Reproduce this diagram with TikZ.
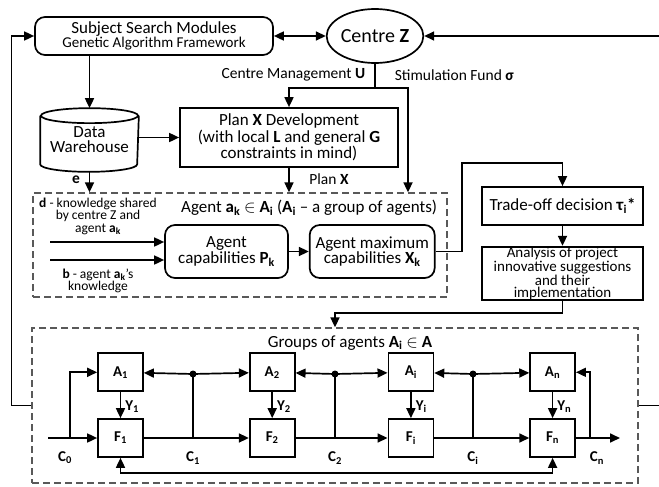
\documentclass[tikz,border=0pt]{standalone}
\usepackage{fontspec}
\setmainfont{Carlito}
\usetikzlibrary{positioning,shapes.geometric,arrows.meta}

\begin{document}
\begin{tikzpicture}[x=1pt,y=-1pt,line width=1.7pt,
	arr/.style={-{Triangle[length=10pt,width=9pt]}},
	darr/.style={{Triangle[length=10pt,width=9pt]}-{Triangle[length=10pt,width=9pt]}},
	box/.style={draw,align=center,inner sep=1pt,font=\fontsize{17}{14.5}\selectfont},
	rbox/.style={box,rounded corners=10pt},
	blk/.style={draw,minimum width=45pt,minimum height=38pt,inner sep=0pt,font=\bfseries\fontsize{15}{15}\selectfont},
	grpbox/.style={draw=black!65,dash pattern=on 7pt off 4pt,line width=1.3pt,inner sep=0pt},
	lbl/.style={inner sep=0pt,font=\fontsize{15.5}{13}\selectfont},
	sml/.style={inner sep=0pt,align=center,font=\fontsize{13.5}{12.5}\selectfont},
	ylbl/.style={right,inner sep=4pt,font=\bfseries\fontsize{15}{15}\selectfont},
	dot/.style={circle,fill,inner sep=0pt,minimum size=7pt}]
	\useasboundingbox (0,0) rectangle (659,487);

	%% centre and plan
	\node[rbox,minimum width=238pt,minimum height=38pt] (ssm) at (154,36) {Subject Search Modules\\\fontsize{15}{14}\selectfont Genetic Algorithm Framework};
	\node[ellipse,draw,minimum width=96pt,minimum height=54pt,inner sep=0pt,font=\fontsize{20}{20}\selectfont] (cz) at (375,36) {Centre \textbf{Z}};
	\node[box,minimum width=218pt,minimum height=59pt] (plan) at (289,137.5) {Plan \textbf{X} Development\\(with local \textbf{L} and general \textbf{G}\\constraints in mind)};
	\node[box,draw=none,minimum width=97pt,minimum height=62pt,font=\fontsize{17}{15}\selectfont] (dw) at (89.5,140) {Data\\Warehouse};
	\draw ([yshift=-7.5pt]dw.north west) -- ([yshift=7.5pt]dw.south west)
		arc[start angle=180,end angle=360,x radius=48.5pt,y radius=7.5pt] -- ([yshift=-7.5pt]dw.north east);
	\draw ([yshift=-7.5pt]dw.north) ellipse[x radius=48.5pt,y radius=7.5pt];
	\coordinate (czb) at (375,88);
	\coordinate (sf) at (408,88);
	\node[lbl,anchor=east] (cmu) at (366,75) {Centre Management \textbf{U}};
	\node[lbl,anchor=west] (sfs) at (394,75) {Stimulation Fund \textbf{σ}};

	%% agent
	\node[grpbox,minimum width=414pt,minimum height=104pt] (agbox) at (240,245) {};
	\node[lbl,anchor=east,font=\fontsize{17}{17}\selectfont] (agt) at (438,208) {Agent \textbf{a}\textsubscript{\textbf{k}} $\in$ \textbf{A}\textsubscript{\textbf{i}} (\textbf{A}\textsubscript{\textbf{i}} – a group of agents)};
	\node[rbox,minimum width=123pt,minimum height=53pt] (cap) at (226.5,251.5) {Agent\\capabilities \textbf{P}\textsubscript{\textbf{k}}};
	\node[rbox,minimum width=125pt,minimum height=53pt,right =20pt of cap] (mcap) {Agent maximum\\capabilities \textbf{X}\textsubscript{\textbf{k}}};
	\coordinate (in1) at (50,242);
	\coordinate (in2) at (50,260);
	\node[sml] (dtx) at (98,216) {\textbf{d} - knowledge shared\\by centre Z and\\agent \textbf{a}\textsubscript{\textbf{k}}};
	\node[sml] (btx) at (98,281) {\textbf{b} - agent \textbf{a}\textsubscript{\textbf{k}}’s\\knowledge};
	\node[lbl] (e) at (76,180) {\textbf{e}};
	\node[lbl] (px) at (329,179) {Plan \textbf{X}};

	%% decision
	\node[box,minimum width=161pt,minimum height=38pt] (trade) at (562.5,206) {Trade-off decision \textbf{τ}\textsubscript{\textbf{i}}\textbf{*}};
	\node[box,minimum width=161pt,minimum height=52pt,inner sep=0pt,below =20pt of trade,font=\fontsize{15}{12.8}\selectfont] (ana) {Analysis of project\\innovative suggestions\\and their\\implementation};
	\coordinate (tk) at (462,163);
	\coordinate (ak) at (335,313);

	%% groups of agents
	\node[grpbox,minimum width=606pt,minimum height=155pt] (grp) at (335,405.5) {};
	\node[lbl,font=\fontsize{17}{17}\selectfont] (gtx) at (350,343) {Groups of agents \textbf{A}\textsubscript{\textbf{i}} $\in$ \textbf{A}};
	\node[blk] (F1) at (120.5,438) {F\textsubscript{1}};
	\node[blk,right =105pt of F1] (F2) {F\textsubscript{2}};
	\node[blk,right =92pt of F2] (Fi) {F\textsubscript{i}};
	\node[blk,right =95pt of Fi] (Fn) {F\textsubscript{n}};
	\foreach \k in {1,2,i,n}{
		\node[blk,above =26pt of F\k] (A\k) {A\textsubscript{\k}};
		\draw[arr] (A\k) -- node[ylbl,pos=0.55] {Y\textsubscript{\k}} (F\k);
	}
	\coordinate (j1) at (193,374);
	\coordinate (j2) at (335,374);
	\coordinate (j3) at (473,374);
	\coordinate (jn) at (590,374);
	\coordinate (c0) at (48,438);
	\coordinate (c0b) at (70,438);
	\coordinate (cout) at (620,438);
	\node[ylbl,anchor=center,inner sep=0pt] (C0) at (65,458) {C\textsubscript{0}};
	\node[ylbl,anchor=center,inner sep=0pt] (C1) at (193,458) {C\textsubscript{1}};
	\node[ylbl,anchor=center,inner sep=0pt] (C2) at (335,458) {C\textsubscript{2}};
	\node[ylbl,anchor=center,inner sep=0pt] (Ci) at (473,458) {C\textsubscript{i}};
	\node[ylbl,anchor=center,inner sep=0pt] (Cn) at (597,458) {C\textsubscript{n}};

	% links between groups
	\draw[arr] (c0) -- (F1);
	\draw[arr] (c0b) |- (A1);
	\foreach \a/\b/\j in {1/2/1,2/i/2,i/n/3}{
		\draw[arr] (F\a) -- (F\b);
		\draw (j\j |- F\a) -- (j\j);
		\draw[arr] (j\j) -- (A\a);
		\draw[arr] (j\j) -- (A\b);
		\node[dot] at (j\j) {};
	}
	\draw[arr] (Fn) -- (cout);
	\draw[arr] (jn |- Fn) |- (An);
	\draw[darr] (F1) -- ++(0,35) -| (Fn);

	% top links
	\draw[darr] (ssm.east) -- (cz.west);
	\draw[arr] (ssm.south -| dw.north) -- (dw.north);
	\draw[arr] (dw.east |- plan.west) -- (plan.west);
	\draw[arr] (dw.south) -- (dw.south |- agbox.north);
	\draw[arr] (cz.south) -- (czb) -| (plan.north);
	\draw[arr] (czb) -- (sf) -- (sf |- agbox.north);
	\draw[arr] (plan.south) -- (plan.south |- agbox.north);
	\draw[arr] (in1) -- (in1 -| cap.west);
	\draw[arr] (in2) -- (in2 -| cap.west);
	\draw[arr] (cap) -- (mcap);
	\draw[arr] (mcap.east) -| (tk) -| (trade.north);
	\draw[arr] (trade) -- (ana);
	\draw[arr] (ana.south) |- (ak) -- (ak |- grp.north);

	% feedback
	\draw[arr] (grp.west) -- ++(-20,0) |- (ssm.west);
	\draw[arr] (grp.east) -- (660,405.5) |- (cz.east);
\end{tikzpicture}
\end{document}
